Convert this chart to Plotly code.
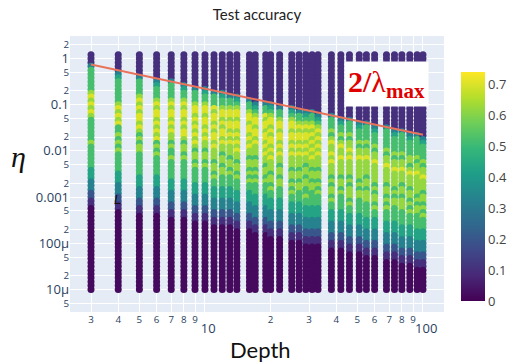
import numpy as np
import plotly.graph_objects as go

# Depth values of the columns (x)
depths = [3, 4, 5, 6, 7, 8, 9, 10, 11, 12, 13, 14, 16, 17, 19, 20, 22, 25, 27, 29,
          31, 33, 38, 42, 46, 51, 55, 60, 68, 74, 80, 87, 94, 100]

# Learning-rate sweep grid (rows, top to bottom)
eta_grid = np.logspace(1 / 12, -5, 62)

# Accuracy level codes (one char per row, top to bottom)
accuracy_levels = {"0": 0.02, "1": 0.10, "2": 0.20, "3": 0.33, "4": 0.43,
                   "5": 0.52, "6": 0.62, "7": 0.70}

accuracy_columns = [
    "111 3 555555 6767676 5555556555555 4443332211 0000000000000000000000",
    "11111 34 555555 676767 556565655555 4443332211 000000000000000000000",
    "111111 3 5555 6767677676 56566555555 4443332211 00000000000000000000",
    "1111111 34 555 67677676767 565655555 4443332211 00000000000000000000",
    "1111111 3 5555 676776767 665655655555 4443332211 0000000000000000000",
    "11111111 34 55 6767767677 65665655555 4443332211 0000000000000000000",
    "111111111 3 555 67767676767 6566565555 4443332211 000000000000000000",
    "111111111 34 55 6776776767 66566565555 4443332211 000000000000000000",
    "1111111111 3 555 767767677676 665665655 4443332211 00000000000000000",
    "1111111111 34 55 6776767767 66566566555 4443332211 00000000000000000",
    "11111111111 3 55 67767767676 6656656555 4443332211 00000000000000000",
    "11111111111 34 5 677677676767 6656656555 4443332211 0000000000000000",
    "111111111111 3 55 6776776767 66566565655 4443332211 0000000000000000",
    "1111111111111 34 5 677677676 665665656555 4443332211 000000000000000",
    "1111111111111 3 55 76776776767 6656656555 4443332211 000000000000000",
    "1111111111111 34 5 677676776767 6665665655 4443332211 00000000000000",
    "11111111111111 3 55 6776776767 66566566555 4443332211 00000000000000",
    "11111111111111 34 5 67767767676 66566565655 4443332211 0000000000000",
    "111111111111111 3 55 6767767676 66566566555 4443332211 0000000000000",
    "111111111111111 34 5 676776767 6656656655655 4443332211 000000000000",
    "111111111111111 3 55 6767676767 665665665555 4443332211 000000000000",
    "1111111111111111 34 5 676767676 665665656555 4443332211 000000000000",
    "1111111111111111 3 55 5656766767 666565665655 4443332211 00000000000",
    "11111111111111111 34 5 565676676 666566565555 4443332211 00000000000",
    "11111111111111111 3 55 5656676766 665656665655 4443332211 0000000000",
    "111111111111111111 34 5 556566766 666565665555 4443332211 0000000000",
    "111111111111111111 3 55 5565667666 656656665555 4443332211 000000000",
    "1111111111111111111 34 5 556566766 666565665655 4443332211 000000000",
    "1111111111111111111 3 55 5556566766 665665656555 4443332211 00000000",
    "11111111111111111111 34 5 555656676 666565665555 4443332211 00000000",
    "11111111111111111111 3 55 5556566766 656656665555 4443332211 0000000",
    "111111111111111111111 34 5 555665676 665665656555 4443332211 0000000",
    "111111111111111111111 3 55 5556566766 666565665555 4443332211 000000",
    "1111111111111111111111 34 5 555656676 665665656555 4443332211 000000",
]

# 2/lambda_max reference line end points
line_depth = [3, 100]
line_eta = [0.745, 0.0224]

xs, ys, cs = [], [], []
n = len(eta_grid)
for d, col in zip(depths, accuracy_columns):
    codes = col.replace(" ", "")
    codes = (codes + codes[-1] * n)[:n]
    for eta, ch in zip(eta_grid, codes):
        xs.append(d)
        ys.append(eta)
        cs.append(accuracy_levels[ch])

fig = go.Figure()
fig.add_trace(go.Scatter(
    x=xs, y=ys, mode="markers",
    marker=dict(size=7, color=cs, colorscale="Viridis", cmin=0, cmax=0.74,
                showscale=True,
                colorbar=dict(x=1.046, xanchor="left", xpad=0, y=0.04, yanchor="bottom",
                              len=0.83, lenmode="fraction", thickness=24, ypad=0,
                              outlinewidth=0, tickvals=[0, 0.1, 0.2, 0.3, 0.4, 0.5, 0.6, 0.7],
                              ticktext=["0", "0.1", "0.2", "0.3", "0.4", "0.5", "0.6", "0.7"],
                              tickfont=dict(size=13, color="#444"))),
    showlegend=False, hoverinfo="skip"))
fig.add_trace(go.Scatter(x=line_depth, y=line_eta, mode="lines",
                         line=dict(color="#e8735a", width=2), showlegend=False,
                         hoverinfo="skip"))

fig.update_layout(
    width=513, height=363,
    margin=dict(l=70, r=69, t=36, b=51, autoexpand=False),
    template="plotly",
    title=dict(text="Test accuracy", x=0.5, xref="paper", y=0.96, yanchor="middle",
               yref="container",
               font=dict(family="Lato", size=15, color="#222")),
    xaxis=dict(type="log", range=[0.3808, 2.0964], dtick="D1", automargin=False,
               tickfont=dict(size=13), showline=False, zeroline=False),
    yaxis=dict(type="log", range=[-5.49, 0.49], dtick="D2", automargin=False,
               tickfont=dict(size=13), zeroline=False),
    annotations=[
        dict(text="<b>2/</b>λ<sub><b>max</b></sub>", xref="paper", yref="paper",
             x=0.845, y=0.826, xanchor="center", yanchor="middle",
             showarrow=False, bgcolor="white",
             font=dict(family="Liberation Serif", size=30, color="#e00000"),
             borderpad=3),
        dict(text="Depth", xref="paper", yref="paper", x=0.51, y=-0.137,
             xanchor="center", yanchor="middle",
             showarrow=False, font=dict(family="Lato", size=22, color="#111")),
        dict(text="<i>η</i>", xref="paper", yref="paper", x=-0.139, y=0.565,
             xanchor="center", yanchor="middle",
             showarrow=False, font=dict(family="Liberation Serif", size=30, color="#111")),
        dict(text="<i>L</i>", xref="paper", yref="paper", x=0.126, y=0.406,
             xanchor="center", yanchor="middle",
             showarrow=False, font=dict(family="Liberation Sans", size=13, color="#111")),
    ],
)

fig.write_html("out.html", config={"displayModeBar": False},
               post_script="document.body.style.margin='0px';")
